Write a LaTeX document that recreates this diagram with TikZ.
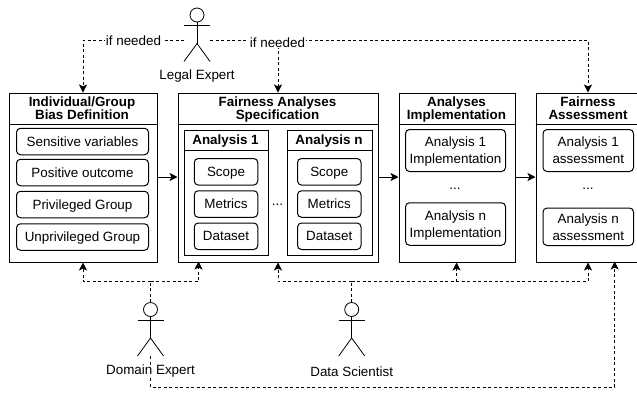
\documentclass[tikz,border=0pt]{standalone}
\usepackage{fontspec}
\setmainfont{Liberation Sans}
\usetikzlibrary{arrows.meta}
\tikzstyle{block} = [draw, line width=1pt, rectangle, inner sep=0pt]
\tikzstyle{item} = [draw, line width=1pt, rectangle, rounded corners=4pt, inner sep=0pt, align=center, text depth=0pt, font=\fontsize{13.4}{17}\selectfont]
\tikzstyle{title} = [font=\fontsize{13.4}{13}\selectfont\bfseries, align=center, inner sep=0pt, text depth=0pt]
\tikzstyle{plain} = [font=\fontsize{13.4}{17}\selectfont, inner sep=1pt, align=center]
\tikzstyle{link} = [-{Stealth[length=8pt,width=8pt,inset=2pt]}, line width=0.8pt, dash pattern=on 3pt off 2.5pt]
\tikzstyle{stem} = [line width=0.8pt, dash pattern=on 3pt off 2.5pt]
\tikzstyle{flow} = [-{Stealth[length=8pt,width=8pt,inset=2pt]}, line width=1pt]
% box given by its corners, with a header line
\newcommand{\panel}[6]{
    \node [block, minimum width=#4pt-#2pt, minimum height=#5pt-#3pt, anchor=north west] (#1) at (#2,#3) {};
    \draw [line width=1pt] (#2,#6) -- (#4,#6);
}
\newcommand{\actor}[3]{
    \node [draw, line width=0.8pt, circle, minimum size=14pt, inner sep=0pt] (#1) at (#2,#3) {};
    \coordinate (#1feet) at (#2,#3+46.5);
    \coordinate (#1hip) at (#2,#3+28.5);
    \coordinate (#1arm) at (#2,#3+10.5);
    \draw [line width=0.8pt] (#1.south) -- (#1hip);
    \draw [line width=0.8pt] ([xshift=-13pt]#1arm) -- ([xshift=13pt]#1arm);
    \draw [line width=0.8pt] ([xshift=-13pt]#1feet) -- (#1hip) -- ([xshift=13pt]#1feet);
}
\begin{document}
\begin{tikzpicture}[x=1pt,y=-1pt]
    \useasboundingbox (0,0) rectangle (637,392);
    % main boxes
    \panel{bias}{8.5}{92.5}{156.5}{261.5}{124}
    \panel{spec}{177.5}{92.5}{377.5}{261.5}{124}
    \panel{impl}{398.5}{92.5}{514.5}{261.5}{124}
    \panel{assess}{535.5}{92.5}{640.5}{261.5}{124}
    \panel{first}{183.5}{129.5}{268}{255}{150}
    \panel{last}{287}{129.5}{371.5}{255}{150}
    \node [title] (biastitle) at (82,108.5) {Individual/Group\\Bias Definition};
    \node [title] (spectitle) at (277.5,108.5) {Fairness Analyses\\Specification};
    \node [title] (impltitle) at (456.5,108.5) {Analyses\\Implementation};
    \node [title] (assesstitle) at (588,108.5) {Fairness\\Assessment};
    \node [title] (firsttitle) at (225.5,140) {Analysis 1};
    \node [title] (lasttitle) at (329,140) {Analysis n};
    % items
    \foreach \name/\y/\txt in {sens/141.5/Sensitive variables, pos/172.5/Positive outcome, priv/204.5/Privileged Group, unpriv/237/Unprivileged Group}
        \node [item, minimum width=132pt, minimum height=26.5pt] (\name) at (82.5,\y) {\txt};
    \foreach \name/\x in {first/226,last/329.25}{
        \node [item, minimum width=63.5pt, minimum height=26.5pt] (\name scope) at (\x,171.75) {Scope};
        \node [item, minimum width=63.5pt, minimum height=26.5pt] (\name metrics) at (\x,204) {Metrics};
        \node [item, minimum width=63.5pt, minimum height=26.5pt] (\name data) at (\x,236.25) {Dataset};
    }
    \node [plain] (specdots) at (277.5,205) {...};
    \node [item, minimum width=100pt, minimum height=42pt] (implone) at (455.5,150.5) {Analysis 1\\Implementation};
    \node [plain] (impldots) at (455,188.5) {...};
    \node [item, minimum width=100pt, minimum height=42.5pt] (impln) at (455.5,224) {Analysis n\\Implementation};
    \node [item, minimum width=90.5pt, minimum height=42pt] (assessone) at (588.25,150.5) {Analysis 1\\assessment};
    \node [plain] (assessdots) at (588,188.5) {...};
    \node [item, minimum width=90.5pt, minimum height=37.5pt] (assessn) at (588.25,226.75) {Analysis n\\assessment};
    % actors
    \actor{legal}{197}{15}
    \actor{domain}{150.5}{309.5}
    \actor{scientist}{351.7}{309.5}
    % flow between boxes
    \draw [flow] (bias.east |- 0,177) -- (spec.west |- 0,177);
    \draw [flow] (spec.east |- 0,177) -- (impl.west |- 0,177);
    \draw [flow] (impl.east |- 0,177) -- (assess.west |- 0,177);
    % legal expert
    \coordinate (legalleft) at (184,40);
    \coordinate (legalright) at (210,40);
    \draw [link] (legalleft) -| (bias.north);
    \draw [link] (legalright) -| (assesstitle |- assess.north);
    \draw [link] (spec.north |- legalright) -- (spec.north);
    \node [plain, fill=white] (legalneed) at (133.5,40.5) {if needed};
    \node [plain, fill=white] (specneed) at (277.5,42.5) {if needed};
    % domain expert
    \coordinate (domainjoin) at (150.5,281.5);
    \draw [stem] (domain.north) -- (domainjoin);
    \draw [link] (domainjoin) -| (bias.south);
    \draw [link] (domainjoin) -| (198.5,261.5);
    \draw [link] (domainfeet) -- (150.5,387) -| (614.7,261.5);
    % data scientist
    \coordinate (scientistjoin) at (351.7,281.5);
    \draw [stem] (scientist.north) -- (scientistjoin);
    \draw [link] (scientistjoin) -| (spec.south);
    \draw [link] (scientistjoin) -| (impltitle |- impl.south);
    \draw [link] (scientistjoin) -| (assesstitle |- assess.south);
    % actor names
    \node [plain] (legalname) at (197,76.5) {Legal Expert};
    \node [plain, fill=white, inner sep=0pt] (domainname) at (150.5,371.5) {Domain Expert};
    \node [plain] (scientistname) at (351.7,371.5) {Data Scientist};
\end{tikzpicture}
\end{document}
